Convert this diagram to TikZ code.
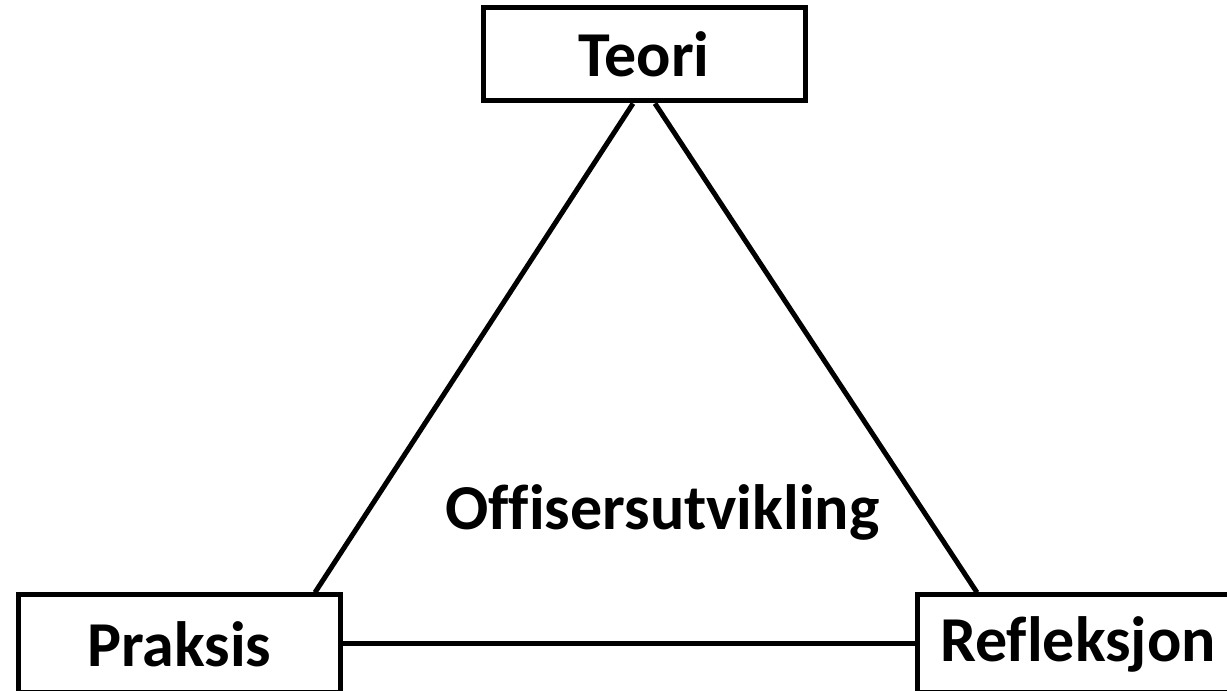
\documentclass[tikz,border=0pt]{standalone}
\usepackage{fontspec}
\setmainfont{Carlito}[Ligatures=NoCommon]

\tikzset{
  boks/.style={draw, line width=2.5pt, minimum width=161pt, minimum height=49pt, font=\fontsize{32}{38}\selectfont\bfseries},
  linje/.style={line width=2.5pt}
}

\begin{document}
\begin{tikzpicture}[x=1pt,y=1pt]

\useasboundingbox (0,0) rectangle (613.5,345.5);
\clip (0,0) rectangle (613.5,345.5);

\node[boks, minimum height=46.5pt] (teori) at (322,318.25) {Teori};
\node[boks] (praksis) at (89.75,23.5) {Praksis};
\node[boks] (refleksjon) at (539,23.5) {Refleksjon};

% trekanten
\draw[linje] ([xshift=-5.5pt]teori.south) -- ([xshift=67.75pt]praksis.north);
\draw[linje] ([xshift=5.5pt]teori.south) -- ([xshift=-50.5pt]refleksjon.north);
\draw[linje] (praksis.east) -- (refleksjon.west);

\node[anchor=base, font=\fontsize{32}{38}\selectfont\bfseries] (midt) at (331.25,80.5) {Offisersutvikling};

\end{tikzpicture}
\end{document}
